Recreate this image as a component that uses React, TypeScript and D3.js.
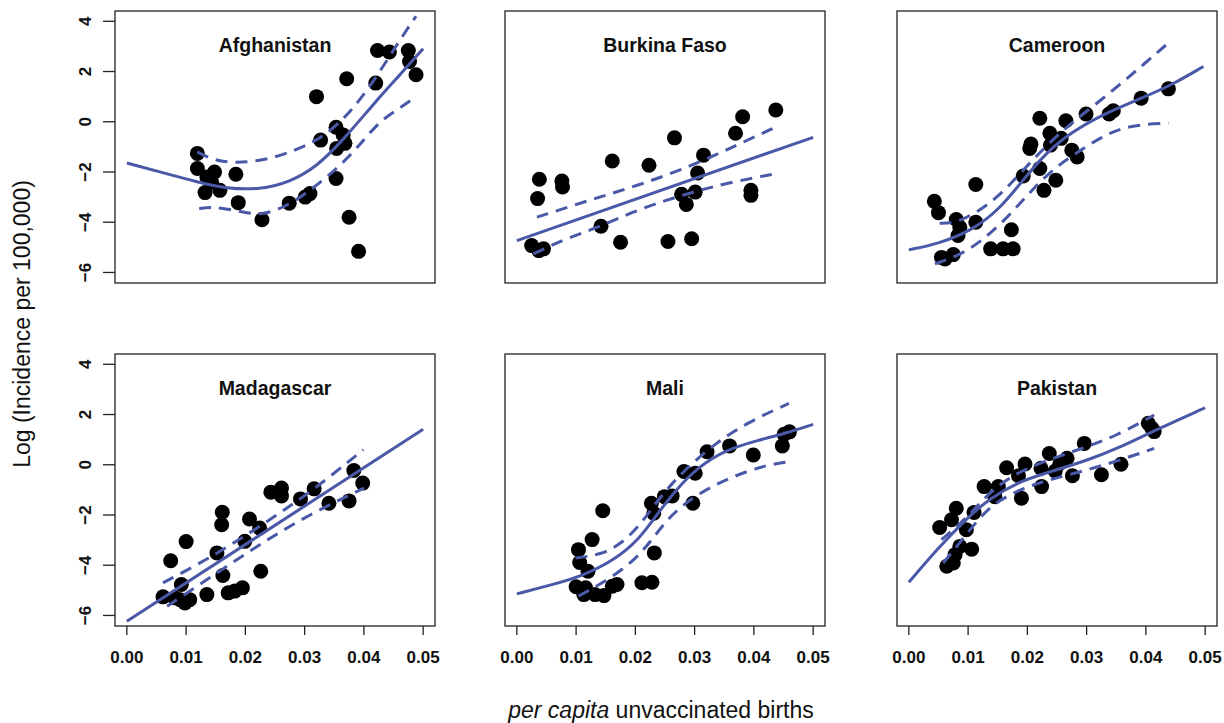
import React from 'react'
import * as d3 from 'd3'

// country panels, left to right, top to bottom
const countries = ['Afghanistan', 'Burkina Faso', 'Cameroon', 'Madagascar', 'Mali', 'Pakistan']

const xTicks = [0, 0.01, 0.02, 0.03, 0.04, 0.05]
const yTicks = [-6, -4, -2, 0, 2, 4]

// [per capita unvaccinated births, log incidence]
const afghanistanPts: [number, number][] = [
    [0.0119, -1.26], [0.0119, -1.86], [0.0148, -2.0], [0.0135, -2.2], [0.0184, -2.09], [0.0132, -2.82],
    [0.0157, -2.73], [0.0143, -2.4], [0.0188, -3.22], [0.0228, -3.9], [0.0274, -3.24], [0.0301, -3.0],
    [0.0309, -2.86], [0.0320, 1.0], [0.0327, -0.73], [0.0353, -0.22], [0.0365, -0.53], [0.0354, -1.06],
    [0.0368, -0.86], [0.0353, -2.26], [0.0371, 1.71], [0.0375, -3.8], [0.0391, -5.16], [0.0420, 1.54],
    [0.0423, 2.84], [0.0443, 2.78], [0.0475, 2.84], [0.0477, 2.4], [0.0488, 1.87]
]
const afghanistanFit: [number, number][] = [
    [0, -1.64], [0.0056, -2.0], [0.0119, -2.4], [0.0168, -2.66], [0.0225, -2.7], [0.0275, -2.4],
    [0.032, -1.8], [0.0365, -0.73], [0.0422, 0.87], [0.0461, 1.87], [0.05, 2.91]
]
const afghanistanUpper: [number, number][] = [
    [0.0119, -1.2], [0.0157, -1.66], [0.0225, -1.6], [0.0287, -1.13], [0.0332, -0.6], [0.0377, 0.34],
    [0.0422, 1.8], [0.0461, 3.27], [0.0488, 4.2]
]
const afghanistanLower: [number, number][] = [
    [0.0122, -3.46], [0.0146, -3.37], [0.0197, -3.6], [0.0228, -3.73], [0.0275, -3.33], [0.0332, -2.33],
    [0.0382, -1.26], [0.0422, -0.06], [0.0456, 0.47], [0.0488, 1.0]
]

const burkinaPts: [number, number][] = [
    [0.0038, -2.29], [0.0035, -3.06], [0.0076, -2.36], [0.0077, -2.6], [0.0025, -4.93], [0.0037, -5.13],
    [0.0045, -5.06], [0.0142, -4.16], [0.0175, -4.8], [0.0161, -1.56], [0.0223, -1.73], [0.0266, -0.64],
    [0.0255, -4.77], [0.0295, -4.66], [0.0278, -2.89], [0.0301, -2.8], [0.0286, -3.29], [0.0305, -2.04],
    [0.0315, -1.33], [0.0369, -0.46], [0.0381, 0.2], [0.0395, -2.73], [0.0395, -2.93], [0.0437, 0.47]
]
const burkinaFit: [number, number][] = [[0, -4.73], [0.05, -0.62]]
const burkinaUpper: [number, number][] = [
    [0.0034, -3.8], [0.0121, -3.13], [0.0206, -2.53], [0.0296, -1.75], [0.0374, -0.9], [0.0438, -0.2]
]
const burkinaLower: [number, number][] = [
    [0.0028, -5.26], [0.0082, -4.66], [0.0138, -4.2], [0.0194, -3.6], [0.0251, -3.13], [0.0307, -2.73],
    [0.0363, -2.4], [0.0438, -2.06]
]

const cameroonPts: [number, number][] = [
    [0.0043, -3.17], [0.0050, -3.62], [0.0080, -3.89], [0.0086, -4.2], [0.0083, -4.53], [0.0055, -5.4],
    [0.0075, -5.29], [0.0061, -5.46], [0.0113, -2.5], [0.0113, -4.0], [0.0138, -5.06], [0.0159, -5.06],
    [0.0176, -5.06], [0.0173, -4.3], [0.0193, -2.16], [0.0204, -1.06], [0.0206, -0.89], [0.0221, 0.14],
    [0.0221, -1.86], [0.0228, -2.73], [0.0238, -0.46], [0.0239, -0.93], [0.0257, -0.66], [0.0248, -2.33],
    [0.0265, 0.04], [0.0275, -1.13], [0.0284, -1.4], [0.0299, 0.31], [0.0345, 0.44], [0.0338, 0.31],
    [0.0392, 0.94], [0.0438, 1.31]
]
const cameroonFit: [number, number][] = [
    [0, -5.1], [0.005, -4.86], [0.0106, -4.33], [0.0151, -3.53], [0.019, -2.4], [0.023, -1.26],
    [0.0275, -0.4], [0.0331, 0.34], [0.0393, 0.94], [0.0444, 1.47], [0.0497, 2.2]
]
const cameroonUpper: [number, number][] = [
    [0.0052, -4.04], [0.0078, -4.04], [0.0111, -3.66], [0.0151, -3.0], [0.019, -2.0], [0.023, -1.0],
    [0.027, -0.13], [0.0314, 0.67], [0.0359, 1.54], [0.0399, 2.34], [0.0438, 3.14]
]
const cameroonLower: [number, number][] = [
    [0.0044, -5.66], [0.0083, -5.33], [0.0117, -4.86], [0.0162, -3.93], [0.0202, -2.86], [0.0241, -1.93],
    [0.0281, -1.26], [0.0325, -0.6], [0.037, -0.13], [0.0438, -0.06]
]

const madagascarPts: [number, number][] = [
    [0.0061, -5.26], [0.0074, -3.82], [0.0100, -3.06], [0.0092, -4.77], [0.0090, -5.37], [0.0106, -5.37],
    [0.0098, -5.5], [0.0081, -5.3], [0.0135, -5.17], [0.0152, -3.51], [0.0161, -1.89], [0.0160, -2.39],
    [0.0162, -4.41], [0.0171, -5.1], [0.0182, -5.03], [0.0195, -4.9], [0.0199, -3.05], [0.0207, -2.16],
    [0.0224, -2.52], [0.0226, -4.24], [0.0243, -1.09], [0.0261, -0.93], [0.0261, -1.24], [0.0293, -1.36],
    [0.0316, -0.96], [0.0341, -1.53], [0.0375, -1.44], [0.0383, -0.23], [0.0398, -0.73]
]
const madagascarFit: [number, number][] = [[0, -6.23], [0.05, 1.41]]
const madagascarUpper: [number, number][] = [
    [0.0061, -4.7], [0.014, -3.72], [0.0225, -2.45], [0.031, -1.1], [0.0399, 0.6]
]
const madagascarLower: [number, number][] = [
    [0.0068, -5.63], [0.014, -4.5], [0.0225, -3.15], [0.031, -1.95], [0.04, -0.93]
]

const maliPts: [number, number][] = [
    [0.0104, -3.38], [0.0106, -3.89], [0.0127, -2.98], [0.0120, -4.24], [0.0100, -4.86], [0.0116, -4.9],
    [0.0113, -5.17], [0.0132, -5.17], [0.0147, -5.21], [0.0161, -4.84], [0.0169, -4.77], [0.0145, -1.83],
    [0.0211, -4.7], [0.0228, -4.68], [0.0232, -3.51], [0.0227, -1.53], [0.0231, -1.93], [0.0249, -1.27],
    [0.0262, -1.24], [0.0282, -0.27], [0.0301, -0.34], [0.0297, -1.53], [0.0321, 0.52], [0.0359, 0.75],
    [0.0399, 0.39], [0.0448, 0.75], [0.0451, 1.21], [0.0460, 1.31]
]
const maliFit: [number, number][] = [
    [0, -5.14], [0.0054, -4.81], [0.011, -4.44], [0.0166, -3.78], [0.0206, -2.98], [0.0234, -2.06],
    [0.0268, -1.0], [0.0307, -0.07], [0.0352, 0.59], [0.0408, 0.98], [0.0453, 1.25], [0.05, 1.61]
]
const maliUpper: [number, number][] = [
    [0.0099, -3.71], [0.0144, -3.58], [0.0177, -3.12], [0.0206, -2.46], [0.0234, -1.53], [0.0262, -0.73],
    [0.0296, 0.06], [0.0335, 0.85], [0.0391, 1.71], [0.0459, 2.44]
]
const maliLower: [number, number][] = [
    [0.0104, -5.23], [0.0155, -4.57], [0.02, -3.78], [0.0228, -2.98], [0.0262, -1.93], [0.0307, -1.13],
    [0.0363, -0.47], [0.042, -0.01], [0.0459, 0.12]
]

const pakistanPts: [number, number][] = [
    [0.0052, -2.5], [0.0072, -2.19], [0.0080, -1.73], [0.0064, -4.04], [0.0075, -3.91], [0.0078, -3.58],
    [0.0086, -3.25], [0.0097, -2.59], [0.0106, -3.36], [0.0110, -1.9], [0.0127, -0.87], [0.0145, -1.27],
    [0.0151, -0.87], [0.0165, -0.12], [0.0185, -0.44], [0.0190, -1.33], [0.0196, 0.03], [0.0223, -0.14],
    [0.0224, -0.87], [0.0237, 0.45], [0.0247, -0.25], [0.0255, 0.06], [0.0267, 0.26], [0.0276, -0.44],
    [0.0296, 0.85], [0.0325, -0.4], [0.0358, 0.02], [0.0404, 1.65], [0.0410, 1.45], [0.0414, 1.32]
]
const pakistanFit: [number, number][] = [
    [0, -4.68], [0.005, -3.3], [0.0095, -2.2], [0.0135, -1.35], [0.019, -0.62], [0.0247, -0.22],
    [0.0303, 0.19], [0.0359, 0.72], [0.0416, 1.38], [0.05, 2.27]
]
const pakistanUpper: [number, number][] = [
    [0.0055, -2.98], [0.0095, -2.19], [0.0134, -1.13], [0.0179, -0.34], [0.0235, 0.19], [0.0292, 0.65],
    [0.0348, 1.12], [0.0414, 1.98]
]
const pakistanLower: [number, number][] = [
    [0.0058, -3.91], [0.0095, -2.85], [0.0134, -1.66], [0.0185, -1.0], [0.0235, -0.6], [0.0292, -0.27],
    [0.0348, 0.12], [0.0414, 0.65]
]

const panelPts = [afghanistanPts, burkinaPts, cameroonPts, madagascarPts, maliPts, pakistanPts]
const panelFit = [afghanistanFit, burkinaFit, cameroonFit, madagascarFit, maliFit, pakistanFit]
const panelUpper = [afghanistanUpper, burkinaUpper, cameroonUpper, madagascarUpper, maliUpper, pakistanUpper]
const panelLower = [afghanistanLower, burkinaLower, cameroonLower, madagascarLower, maliLower, pakistanLower]

const colLeft = [115, 505, 897]
const rowTop = [11, 354]
const panelW = 320
const panelH = 272
const lineColor = '#4a58a8'
const font = '"Liberation Sans", Arial, sans-serif'

const fmtX = d3.format('.2f')
const fmtY = d3.format('d')

function Panel({ i }: { i: number }) {
    const col = i % 3
    const row = Math.floor(i / 3)
    const left = colLeft[col]
    const top = rowTop[row]

    const x = d3.scaleLinear().domain([-0.002, 0.052]).range([left, left + panelW])
    const y = d3.scaleLinear().domain([-6.42, 4.41]).range([top + panelH, top])
    const line = d3.line<[number, number]>()
        .x(d => x(d[0]))
        .y(d => y(d[1]))
        .curve(d3.curveBasis)

    const clipId = 'clip' + i

    return (
        <g>
            <defs>
                <clipPath id={clipId}>
                    <rect x={left} y={top} width={panelW} height={panelH} />
                </clipPath>
            </defs>
            <g clipPath={'url(#' + clipId + ')'}>
                {panelPts[i].map((d, k) => (
                    <circle key={k} cx={x(d[0])} cy={y(d[1])} r={7.5} fill="#000" />
                ))}
                <path d={line(panelFit[i]) || ''} fill="none" stroke={lineColor} strokeWidth={3} />
                <path d={line(panelUpper[i]) || ''} fill="none" stroke={lineColor} strokeWidth={3} strokeDasharray="12,8" />
                <path d={line(panelLower[i]) || ''} fill="none" stroke={lineColor} strokeWidth={3} strokeDasharray="12,8" />
            </g>
            <rect x={left} y={top} width={panelW} height={panelH} fill="none" stroke="#222" strokeWidth={1.3} />
            <text x={left + panelW / 2} y={top + 41} textAnchor="middle"
                style={{ font: 'bold 19.5px ' + font }} fill="#111">{countries[i]}</text>

            {col === 0 && yTicks.map(t => (
                <g key={'y' + t}>
                    <line x1={left - 12} x2={left} y1={y(t)} y2={y(t)} stroke="#222" strokeWidth={1.3} />
                    <text transform={'translate(' + (left - 24) + ',' + y(t) + ') rotate(-90)'} textAnchor="middle"
                        style={{ font: 'bold 17px ' + font }} fill="#111">{fmtY(t)}</text>
                </g>
            ))}
            {row === 1 && xTicks.map(t => (
                <g key={'x' + t}>
                    <line x1={x(t)} x2={x(t)} y1={top + panelH} y2={top + panelH + 9} stroke="#222" strokeWidth={1.3} />
                    <text x={x(t)} y={663} textAnchor="middle"
                        style={{ font: 'bold 17px ' + font }} fill="#111">{fmtX(t)}</text>
                </g>
            ))}
        </g>
    )
}

export default function App() {
    return (
        <svg width={1224} height={723} style={{ position: 'absolute', left: 0, top: 0, background: '#fff' }}>
            {countries.map((c, i) => <Panel key={c} i={i} />)}
            <text transform="translate(30,324) rotate(-90)" textAnchor="middle"
                style={{ font: '23px ' + font }} fill="#111">Log (Incidence per 100,000)</text>
            <text x={661} y={718} textAnchor="middle" style={{ font: '23px ' + font }} fill="#111">
                <tspan fontStyle="italic">per capita</tspan> unvaccinated births
            </text>
        </svg>
    )
}
